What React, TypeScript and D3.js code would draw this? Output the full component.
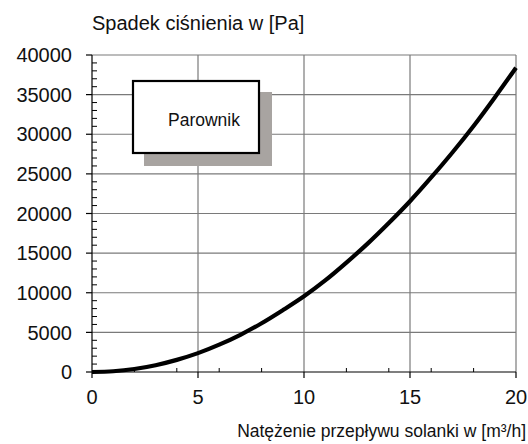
import React from "react";
import * as d3 from "d3";

const flowValues = [0, 1, 2, 3, 4, 5, 6, 7, 8, 9, 10, 11, 12, 13, 14, 15, 16, 17, 18, 19, 20];
const pressureValues = [0, 95, 380, 860, 1530, 2380, 3450, 4700, 6150, 7800, 9550, 11550, 13800, 16200, 18800, 21550, 24550, 27700, 31050, 34650, 38400];
const xTicks = [0, 5, 10, 15, 20];
const xMinorTicks = [2, 4, 6, 8, 12, 14, 16, 18];
const yTicks = [0, 5000, 10000, 15000, 20000, 25000, 30000, 35000, 40000];
const yMinorTicks = d3.range(1000, 40000, 1000).filter((v) => v % 5000 !== 0);
const yTitle = "Spadek ciśnienia w [Pa]";
const xTitle = "Natężenie przepływu solanki w [m³/h]";
const boxLabel = "Parownik";

export default function App() {
  const W = 528, H = 444;
  const left = 92, right = 516, top = 55, bottom = 372;
  const x = d3.scaleLinear().domain([0, 20]).range([left, right]);
  const y = d3.scaleLinear().domain([0, 40000]).range([bottom, top]);
  const data = flowValues.map((f, i) => [f, pressureValues[i]] as [number, number]);
  const line = d3.line<[number, number]>().x((d) => x(d[0])).y((d) => y(d[1])).curve(d3.curveMonotoneX);
  const font = "Liberation Sans, Arial, sans-serif";
  const grid = "#7a7a7a";
  return (
    <svg width={W} height={H} style={{ position: "absolute", left: 0, top: 0, background: "#fff" }}>
      <rect x={0} y={0} width={W} height={H} fill="#fff" />
      {yTicks.filter((t) => t > 0).map((t) => (
        <line key={"gy" + t} x1={left} x2={right} y1={y(t)} y2={y(t)} stroke={grid} strokeWidth={1.2} />
      ))}
      {xTicks.filter((t) => t > 0).map((t) => (
        <line key={"gx" + t} x1={x(t)} x2={x(t)} y1={top} y2={bottom} stroke={grid} strokeWidth={1.2} />
      ))}
      <rect x={144} y={92} width={128} height={74} fill="#a8a4a1" />
      <rect x={133} y={81} width={126} height={72} fill="#fff" stroke="#000" strokeWidth={2.2} />
      <text x={204} y={126} fontFamily={font} fontSize={17.5} textAnchor="middle" fill="#111">{boxLabel}</text>
      <path d={line(data) || ""} fill="none" stroke="#000" strokeWidth={4.2} />
      <line x1={left} x2={left} y1={top} y2={bottom} stroke="#000" strokeWidth={1.2} />
      <line x1={left} x2={right} y1={bottom} y2={bottom} stroke="#000" strokeWidth={1.2} />
      {yTicks.map((t) => (
        <line key={"ty" + t} x1={left - 6} x2={left} y1={y(t)} y2={y(t)} stroke="#000" strokeWidth={1.2} />
      ))}
      {yMinorTicks.map((t) => (
        <line key={"my" + t} x1={left} x2={left + 5} y1={y(t)} y2={y(t)} stroke="#000" strokeWidth={1} />
      ))}
      {xTicks.map((t) => (
        <line key={"tx" + t} x1={x(t)} x2={x(t)} y1={bottom} y2={bottom + 6} stroke="#000" strokeWidth={1.2} />
      ))}
      {xMinorTicks.map((t) => (
        <line key={"mx" + t} x1={x(t)} x2={x(t)} y1={bottom - 4} y2={bottom} stroke="#000" strokeWidth={1} />
      ))}
      {yTicks.map((t) => (
        <text key={"ly" + t} x={72} y={y(t)} dy="0.36em" textAnchor="end" fontFamily={font} fontSize={20} fill="#111">{t}</text>
      ))}
      {xTicks.map((t) => (
        <text key={"lx" + t} x={x(t)} y={404} textAnchor="middle" fontFamily={font} fontSize={20} fill="#111">{t}</text>
      ))}
      <text x={92} y={30} fontFamily={font} fontSize={20} fill="#111">{yTitle}</text>
      <text x={526} y={437} textAnchor="end" fontFamily={font} fontSize={17.5} fill="#111">{xTitle}</text>
    </svg>
  );
}
